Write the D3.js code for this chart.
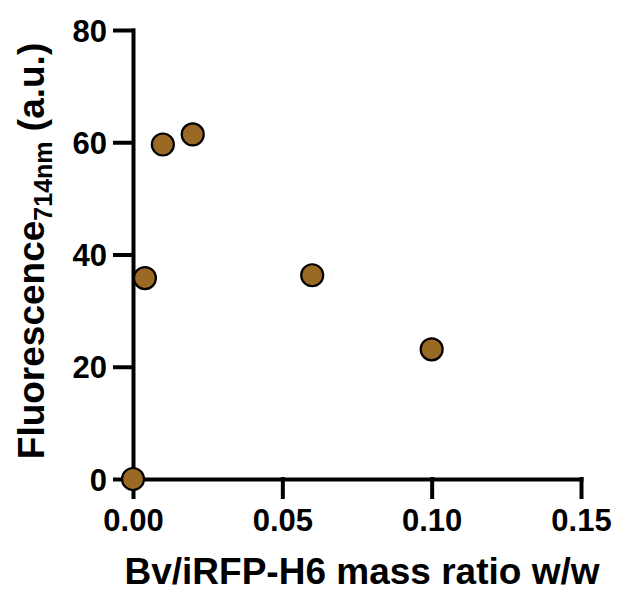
<html>
<head>
<meta charset="utf-8" />
<script src="https://d3js.org/d3.v7.min.js"></script>
<style>
  body { margin: 0; background: #fff; }
  text { font-family: Arial, "Liberation Sans", sans-serif; font-weight: bold; }
</style>
</head>
<body>
<svg id="chart" width="617" height="592"></svg>
<script>
  // values
  var ratio = [0, 0.004, 0.01, 0.02, 0.06, 0.10];
  var fluor = [0, 35.8, 59.6, 61.4, 36.3, 23.1];
  var xTicks = [0, 0.05, 0.10, 0.15];
  var yTicks = [0, 20, 40, 60, 80];

  var svg = d3.select("#chart");
  var x = d3.scaleLinear().domain([0, 0.15]).range([133, 581]);
  var y = d3.scaleLinear().domain([0, 80]).range([479, 30]);

  var xAxis = svg.append("g")
    .attr("transform", "translate(0," + y(0) + ")")
    .call(d3.axisBottom(x).tickValues(xTicks).tickFormat(d3.format(".2f"))
      .tickSize(18).tickSizeOuter(0).tickPadding(12));

  var yAxis = svg.append("g")
    .attr("transform", "translate(" + x(0) + ",0)")
    .call(d3.axisLeft(y).tickValues(yTicks).tickSize(18).tickSizeOuter(0).tickPadding(8));

  svg.selectAll(".domain, .tick line")
    .attr("stroke", "#000").attr("stroke-width", 4).attr("stroke-linecap", "square");
  svg.selectAll(".tick text")
    .attr("fill", "#000").style("font-size", "31px").style("font-weight", "bold")
    .style("font-family", "Arial, 'Liberation Sans', sans-serif");
  yAxis.selectAll(".tick text").attr("dy", "0.36em");

  svg.append("g").selectAll("circle")
    .data(ratio)
    .enter().append("circle")
    .attr("cx", (d) => x(d))
    .attr("cy", (d, i) => y(fluor[i]))
    .attr("r", 11)
    .attr("fill", "#9a6a24")
    .attr("stroke", "#000")
    .attr("stroke-width", 2.2);

  svg.append("text")
    .attr("x", 362).attr("y", 584)
    .attr("text-anchor", "middle")
    .style("font-size", "37px")
    .text("Bv/iRFP-H6 mass ratio w/w");

  var yt = svg.append("text")
    .attr("transform", "translate(44,251) rotate(-90)")
    .attr("text-anchor", "middle")
    .style("font-size", "37px");
  yt.append("tspan").text("Fluorescence");
  yt.append("tspan").attr("dy", 8).style("font-size", "25px").text("714nm");
  yt.append("tspan").attr("dy", -8).text(" (a.u.)");
</script>
</body>
</html>
